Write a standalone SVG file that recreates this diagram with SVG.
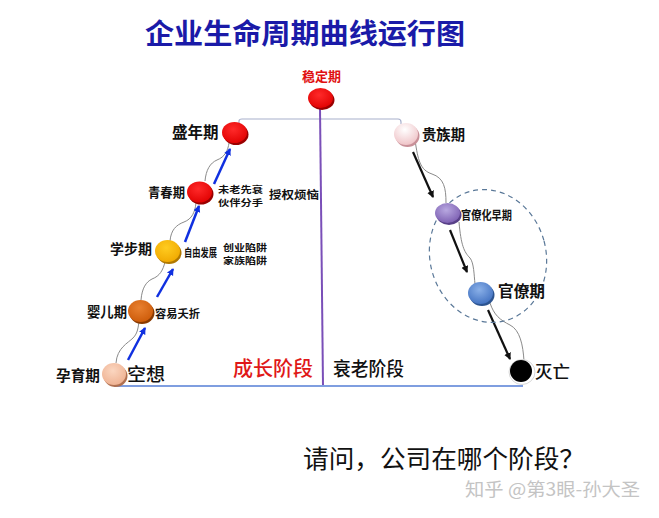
<svg xmlns="http://www.w3.org/2000/svg" width="659" height="518" viewBox="0 0 659 518">
<style>
text{font-family:"Noto Sans CJK SC","Noto Sans",sans-serif;}
.lb{font-weight:700;fill:#111;}
.sm{font-weight:700;fill:#111;font-size:11px;}
.sm2{font-weight:700;fill:#111;font-size:9px;}
.wave{fill:none;stroke:#8a8a8a;stroke-width:1;}
.ba{stroke:#1030e0;stroke-width:2.5;marker-end:url(#ab);}
.ka{stroke:#111;stroke-width:2.2;marker-end:url(#ak);}
</style>
<defs>
<marker id="ab" markerWidth="8" markerHeight="8" refX="6" refY="4" orient="auto" markerUnits="userSpaceOnUse"><path d="M0,0.5 L7,4 L0,7.5 Z" fill="#1030e0"/></marker>
<marker id="ak" markerWidth="8" markerHeight="8" refX="6" refY="4" orient="auto" markerUnits="userSpaceOnUse"><path d="M0,0.5 L7,4 L0,7.5 Z" fill="#111"/></marker>
<radialGradient id="gRed" cx="0.45" cy="0.35" r="0.7"><stop offset="0" stop-color="#ff2a2a"/><stop offset="1" stop-color="#e00000"/></radialGradient>
<radialGradient id="gYel" cx="0.45" cy="0.35" r="0.7"><stop offset="0" stop-color="#ffcc20"/><stop offset="1" stop-color="#f0a800"/></radialGradient>
<radialGradient id="gOra" cx="0.45" cy="0.35" r="0.7"><stop offset="0" stop-color="#e88030"/><stop offset="1" stop-color="#cc5a08"/></radialGradient>
<radialGradient id="gPea" cx="0.45" cy="0.35" r="0.7"><stop offset="0" stop-color="#fbd6c0"/><stop offset="1" stop-color="#eeb090"/></radialGradient>
<radialGradient id="gPin" cx="0.45" cy="0.3" r="0.75"><stop offset="0" stop-color="#ffffff"/><stop offset="1" stop-color="#eec0c4"/></radialGradient>
<radialGradient id="gPur" cx="0.45" cy="0.35" r="0.7"><stop offset="0" stop-color="#b8a8e0"/><stop offset="1" stop-color="#7a5cb0"/></radialGradient>
<radialGradient id="gBlu" cx="0.45" cy="0.35" r="0.7"><stop offset="0" stop-color="#8ab0e8"/><stop offset="1" stop-color="#4070c0"/></radialGradient>
</defs>
<rect width="659" height="518" fill="#ffffff"/>

<text x="145" y="44" font-size="28" fill="#1a1aa8" textLength="320" lengthAdjust="spacingAndGlyphs" font-weight="600">企业生命周期曲线运行图</text>

<g id="connectors">
<path d="M239,124 L239,121 Q239,119 242,119 L398,119 Q401,119 401,122 L401,124" fill="none" stroke="#a8b0cc" stroke-width="1.2"/>
<line x1="320" y1="108" x2="323" y2="386" stroke="#7a4fb8" stroke-width="2"/>
<line x1="114" y1="386" x2="523" y2="386" stroke="#7f9ee0" stroke-width="2"/>
<path class="wave" d="M116,363 C117,348 128,343 133,338 C138,333 138,327 139,322"/>
<path class="wave" d="M141,300 C142,288 146,282 152,279 C160,276 163,270 165,262"/>
<path class="wave" d="M170,241 C171,230 176,225 184,222 C192,219 195,212 196,203"/>
<path class="wave" d="M205,181 C206,170 210,163 217,160 C225,157 228,150 229,143"/>
<path class="wave" d="M415,140 C418,160 420,170 432,174 C444,178 446,188 446,203"/>
<path class="wave" d="M459,222 C461,245 464,252 470,258 C474,263 474,275 475,284"/>
<path class="wave" d="M490,303 C494,315 500,320 510,325 C520,330 523,345 524,361"/>
<line class="ba" x1="128" y1="360" x2="145" y2="328"/>
<line class="ba" x1="157" y1="297" x2="173" y2="269"/>
<line class="ba" x1="185" y1="242" x2="199" y2="206"/>
<line class="ba" x1="214" y1="184" x2="230" y2="149"/>
<line class="ka" x1="413" y1="152" x2="433" y2="197"/>
<line class="ka" x1="450" y1="230" x2="467" y2="272"/>
<line class="ka" x1="488" y1="310" x2="510" y2="359"/>
<ellipse cx="488" cy="256" rx="58" ry="67" transform="rotate(-15 488 256)" fill="none" stroke="#5a7898" stroke-width="1.2" stroke-dasharray="5,4"/>
</g>

<g id="n-wending">
<text x="321.5" y="81" font-size="13" font-weight="700" fill="#e01010" text-anchor="middle">稳定期</text>
<ellipse cx="322" cy="100" rx="12.5" ry="10" fill="#9a0000"/>
<ellipse cx="320.5" cy="98" rx="12.5" ry="10" fill="url(#gRed)"/>
</g>
<g id="n-shengnian">
<text class="lb" x="172" y="138" font-size="15.5">盛年期</text>
<ellipse cx="236" cy="134.5" rx="12.5" ry="10.5" fill="#9a0000"/>
<ellipse cx="234.5" cy="132.5" rx="12.5" ry="10.5" fill="url(#gRed)"/>
</g>
<g id="n-qingchun">
<text class="lb" x="148" y="197" font-size="13" textLength="37" lengthAdjust="spacingAndGlyphs">青春期</text>
<ellipse cx="201" cy="194" rx="12.5" ry="10.5" fill="#9a0000"/>
<ellipse cx="199.5" cy="192" rx="12.5" ry="10.5" fill="url(#gRed)"/>
<text class="sm2" x="218" y="192.5" textLength="45" lengthAdjust="spacingAndGlyphs">未老先衰</text>
<text class="sm2" x="218" y="205.5" textLength="45" lengthAdjust="spacingAndGlyphs">伙伴分手</text>
<text class="sm" x="269" y="199" font-size="12" textLength="50" lengthAdjust="spacingAndGlyphs">授权烦恼</text>
</g>
<g id="n-xuebu">
<text class="lb" x="110" y="254" font-size="14" textLength="42" lengthAdjust="spacingAndGlyphs">学步期</text>
<ellipse cx="169" cy="253" rx="12.5" ry="11" fill="#b07800"/>
<ellipse cx="167.5" cy="251" rx="12.5" ry="11" fill="url(#gYel)"/>
<text class="sm" transform="translate(184,257) scale(0.75,1)" x="0" y="0">自由发展</text>
<text class="sm2" x="223" y="251" textLength="44" lengthAdjust="spacingAndGlyphs">创业陷阱</text>
<text class="sm2" x="223" y="264" textLength="44" lengthAdjust="spacingAndGlyphs">家族陷阱</text>
</g>
<g id="n-yinger">
<text class="lb" x="87" y="317" font-size="14" textLength="40" lengthAdjust="spacingAndGlyphs">婴儿期</text>
<ellipse cx="142" cy="313" rx="12.5" ry="11" fill="#8a3a00"/>
<ellipse cx="140.5" cy="311" rx="12.5" ry="11" fill="url(#gOra)"/>
<text class="sm" x="155" y="318" font-size="12" textLength="45" lengthAdjust="spacingAndGlyphs">容易夭折</text>
</g>
<g id="n-yunyu">
<text class="lb" x="56" y="381" font-size="15" textLength="44" lengthAdjust="spacingAndGlyphs">孕育期</text>
<ellipse cx="115.5" cy="376" rx="12" ry="11" fill="#b07050"/>
<ellipse cx="114" cy="374" rx="12" ry="11" fill="url(#gPea)"/>
<text x="127" y="381" font-size="18" font-weight="500" fill="#111" textLength="38" lengthAdjust="spacingAndGlyphs">空想</text>
</g>
<g id="n-guizu">
<ellipse cx="407.5" cy="136" rx="12" ry="11" fill="#c89098"/>
<ellipse cx="406" cy="134" rx="12" ry="11" fill="url(#gPin)"/>
<text class="lb" x="422" y="140" font-size="14.5" textLength="43" lengthAdjust="spacingAndGlyphs">贵族期</text>
</g>
<g id="n-guanliaohua">
<ellipse cx="449" cy="215" rx="12.5" ry="10" fill="#584088"/>
<ellipse cx="447.5" cy="213" rx="12.5" ry="10" fill="url(#gPur)"/>
<text class="lb" x="461" y="220" font-size="12.5" textLength="51" lengthAdjust="spacingAndGlyphs">官僚化早期</text>
</g>
<g id="n-guanliao">
<ellipse cx="482" cy="295" rx="12.5" ry="11" fill="#2c5490"/>
<ellipse cx="480.5" cy="293" rx="12.5" ry="11" fill="url(#gBlu)"/>
<text class="lb" x="498" y="297" font-size="15.5" textLength="47" lengthAdjust="spacingAndGlyphs">官僚期</text>
</g>
<g id="n-miewang">
<ellipse cx="522" cy="372" rx="13" ry="12.5" fill="#ffffff" stroke="#d8d8d8" stroke-width="1"/>
<ellipse cx="521" cy="371" rx="11" ry="11" fill="#000"/>
<text x="535" y="378" font-size="16.5" font-weight="500" fill="#111" textLength="35" lengthAdjust="spacingAndGlyphs">灭亡</text>
</g>

<g id="stages">
<text x="233" y="376" font-size="20" font-weight="500" fill="#e01818" textLength="80" lengthAdjust="spacingAndGlyphs">成长阶段</text>
<text x="333" y="376" font-size="19" font-weight="500" fill="#111" textLength="71" lengthAdjust="spacingAndGlyphs">衰老阶段</text>
</g>

<text x="303" y="468" font-size="25.5" fill="#111" textLength="282" lengthAdjust="spacingAndGlyphs">请问，公司在哪个阶段？</text>
<text x="465" y="496" font-size="18" fill="#c4c4c4" textLength="175" lengthAdjust="spacingAndGlyphs">知乎 @第3眼-孙大圣</text>
</svg>
